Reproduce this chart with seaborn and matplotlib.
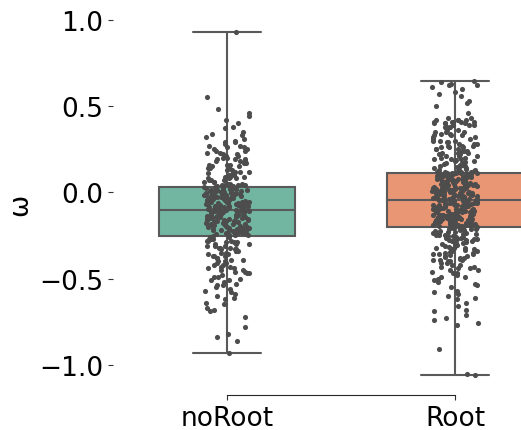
import numpy as np
import pandas as pd
import matplotlib
matplotlib.use("Agg")
import matplotlib.pyplot as plt
import seaborn as sns

# Group labels
groups = ["noRoot", "Root"]

# omega values, noRoot group
noroot_low_tail = [
    -0.93, -0.86, -0.84, -0.82, -0.78, -0.72,
    -0.69, -0.68, -0.67, -0.65, -0.64, -0.62, -0.61, -0.60, -0.59, -0.58, -0.57, -0.56,
    -0.55, -0.54, -0.54, -0.53, -0.52, -0.51, -0.51, -0.50, -0.49, -0.49, -0.48, -0.47,
    -0.47, -0.46, -0.46, -0.45,
    -0.45, -0.44, -0.44, -0.43, -0.43, -0.42, -0.42, -0.41, -0.41, -0.40, -0.40, -0.39,
    -0.39, -0.38, -0.38, -0.37, -0.37, -0.37, -0.36, -0.36, -0.35, -0.35,
    -0.34, -0.34, -0.34, -0.33, -0.33, -0.33, -0.32, -0.32, -0.32, -0.31, -0.31, -0.31,
    -0.30, -0.30, -0.30, -0.29, -0.29, -0.29, -0.28, -0.28, -0.28, -0.27, -0.27, -0.27,
    -0.26, -0.26,
]
noroot_mid_low = [
    -0.251, -0.249, -0.247, -0.246, -0.243, -0.241, -0.240, -0.237, -0.236, -0.233,
    -0.231, -0.229, -0.228, -0.224, -0.222, -0.221, -0.219, -0.216, -0.214, -0.213,
    -0.211, -0.208, -0.207, -0.205, -0.203, -0.200, -0.199, -0.197, -0.195, -0.192,
    -0.190, -0.189, -0.187, -0.184, -0.183, -0.181, -0.179, -0.177, -0.175, -0.173,
    -0.171, -0.169, -0.168, -0.165, -0.163, -0.162, -0.160, -0.157, -0.156, -0.154,
    -0.152, -0.150, -0.148, -0.146, -0.145, -0.142, -0.141, -0.139, -0.137, -0.135,
    -0.133, -0.131, -0.130, -0.128, -0.126, -0.124, -0.122, -0.121, -0.119, -0.117,
    -0.116, -0.114, -0.113, -0.111, -0.110, -0.108, -0.107, -0.106, -0.105, -0.104,
    -0.104, -0.103,
]
noroot_mid_high = [
    -0.102, -0.100, -0.099, -0.097, -0.096, -0.094, -0.092, -0.091, -0.089, -0.088,
    -0.086, -0.084, -0.083, -0.081, -0.080, -0.078, -0.077, -0.075, -0.073, -0.072,
    -0.070, -0.069, -0.067, -0.065, -0.064, -0.062, -0.061, -0.059, -0.058, -0.056,
    -0.054, -0.053, -0.051, -0.050, -0.048, -0.046, -0.045, -0.043, -0.042, -0.040,
    -0.038, -0.037, -0.035, -0.034, -0.032, -0.030, -0.029, -0.027, -0.026, -0.024,
    -0.022, -0.021, -0.019, -0.018, -0.016, -0.014, -0.013, -0.011, -0.010, -0.008,
    -0.006, -0.005, -0.003, -0.002, 0.000, 0.002, 0.003, 0.005, 0.006, 0.008,
    0.010, 0.011, 0.013, 0.014, 0.016, 0.018, 0.019, 0.021, 0.023, 0.026,
    0.029, 0.033,
]
noroot_high_tail = [
    0.93, 0.55, 0.48, 0.46, 0.44, 0.42, 0.40, 0.38, 0.37, 0.35, 0.34, 0.33, 0.32, 0.31,
    0.30, 0.29, 0.29, 0.28, 0.27, 0.27, 0.26, 0.26, 0.25, 0.25,
    0.24, 0.24, 0.23, 0.23, 0.22, 0.22, 0.21, 0.21, 0.20, 0.20,
    0.19, 0.19, 0.19, 0.18, 0.18, 0.18, 0.17, 0.17, 0.16, 0.16,
    0.16, 0.15, 0.15, 0.14, 0.14, 0.14, 0.13, 0.13, 0.12, 0.12,
    0.12, 0.11, 0.11, 0.10, 0.10,
    0.10, 0.09, 0.09, 0.09, 0.08, 0.08, 0.08, 0.07, 0.07, 0.07,
    0.06, 0.06, 0.06, 0.05, 0.05, 0.05, 0.05, 0.04, 0.04, 0.04,
    0.04, 0.035, 0.035,
]

# omega values, Root group
root_low_tail = [
    -1.06, -1.05, -0.91,
    -0.77, -0.76, -0.74, -0.73, -0.71, -0.69, -0.68, -0.66, -0.64, -0.62, -0.61,
    -0.60, -0.59, -0.58, -0.57, -0.55, -0.54, -0.53, -0.52, -0.51,
    -0.50, -0.49, -0.49, -0.48, -0.47, -0.47, -0.46, -0.45, -0.45, -0.44,
    -0.44, -0.43, -0.43, -0.42, -0.42, -0.41, -0.41,
    -0.40, -0.40, -0.395, -0.39, -0.39, -0.385, -0.38, -0.38, -0.375, -0.37,
    -0.37, -0.365, -0.36, -0.36, -0.355, -0.35, -0.35, -0.345, -0.34, -0.34,
    -0.335, -0.33, -0.33, -0.325, -0.32, -0.32, -0.315, -0.31, -0.31, -0.305,
    -0.30, -0.298, -0.295, -0.293, -0.29, -0.288, -0.285, -0.283, -0.28, -0.278,
    -0.275, -0.273, -0.27, -0.268, -0.265, -0.263, -0.26, -0.258, -0.255, -0.253,
    -0.25, -0.248, -0.245, -0.243, -0.24, -0.238, -0.235, -0.233, -0.23, -0.228,
    -0.225, -0.223, -0.22, -0.218, -0.215, -0.213, -0.21, -0.208, -0.205, -0.203,
]
root_mid_low = [
    -0.200, -0.199, -0.197, -0.196, -0.194, -0.193, -0.192, -0.190, -0.189, -0.187,
    -0.186, -0.185, -0.183, -0.182, -0.180, -0.179, -0.178, -0.176, -0.175, -0.173,
    -0.172, -0.171, -0.169, -0.168, -0.166, -0.165, -0.164, -0.162, -0.161, -0.159,
    -0.158, -0.157, -0.155, -0.154, -0.152, -0.151, -0.150, -0.148, -0.147, -0.145,
    -0.144, -0.143, -0.141, -0.140, -0.138, -0.137, -0.136, -0.134, -0.133, -0.131,
    -0.130, -0.129, -0.127, -0.126, -0.124, -0.123, -0.122, -0.120, -0.119, -0.117,
    -0.116, -0.115, -0.113, -0.112, -0.110, -0.109, -0.108, -0.106, -0.105, -0.103,
    -0.102, -0.101, -0.099, -0.098, -0.096, -0.095, -0.094, -0.092, -0.091, -0.089,
    -0.088, -0.087, -0.085, -0.084, -0.082, -0.081, -0.080, -0.078, -0.077, -0.075,
    -0.074, -0.073, -0.071, -0.070, -0.068, -0.067, -0.066, -0.064, -0.063, -0.061,
    -0.060, -0.059, -0.057, -0.056, -0.054, -0.053, -0.052, -0.050, -0.049, -0.047,
]
root_mid_high = [
    -0.045, -0.044, -0.042, -0.041, -0.039, -0.038, -0.036, -0.035, -0.033, -0.032,
    -0.030, -0.029, -0.027, -0.026, -0.024, -0.023, -0.021, -0.020, -0.018, -0.017,
    -0.015, -0.014, -0.012, -0.011, -0.009, -0.008, -0.006, -0.005, -0.003, -0.002,
    0.000, 0.001, 0.003, 0.004, 0.006, 0.007, 0.009, 0.010, 0.012, 0.013,
    0.015, 0.016, 0.018, 0.019, 0.021, 0.022, 0.024, 0.025, 0.027, 0.028,
    0.030, 0.031, 0.033, 0.034, 0.036, 0.037, 0.039, 0.040, 0.042, 0.043,
    0.045, 0.046, 0.048, 0.049, 0.051, 0.052, 0.054, 0.055, 0.057, 0.058,
    0.060, 0.061, 0.063, 0.064, 0.066, 0.067, 0.069, 0.070, 0.072, 0.073,
    0.075, 0.076, 0.078, 0.079, 0.081, 0.082, 0.084, 0.085, 0.087, 0.088,
    0.090, 0.091, 0.093, 0.094, 0.096, 0.097, 0.099, 0.100, 0.102, 0.103,
    0.105, 0.106, 0.108, 0.109, 0.110, 0.111, 0.112, 0.113, 0.114, 0.114,
]
root_high_tail = [
    0.645, 0.64, 0.63, 0.62, 0.62, 0.61, 0.60, 0.58, 0.57, 0.56,
    0.53, 0.52, 0.50, 0.46,
    0.43, 0.43, 0.42, 0.42, 0.42, 0.42, 0.41, 0.41, 0.41, 0.41, 0.41,
    0.40, 0.40, 0.40, 0.40, 0.39, 0.39, 0.39, 0.38, 0.38, 0.38, 0.37,
    0.36, 0.36, 0.35, 0.35, 0.35, 0.34, 0.34, 0.33, 0.33, 0.33, 0.32, 0.32, 0.31, 0.31,
    0.30, 0.30,
    0.295, 0.29, 0.29, 0.28, 0.28, 0.28, 0.27, 0.27, 0.27, 0.26,
    0.26, 0.26, 0.25, 0.25, 0.25, 0.24, 0.24, 0.24, 0.23, 0.23,
    0.23, 0.22, 0.22, 0.22, 0.21, 0.21, 0.21, 0.20,
    0.20, 0.195, 0.19, 0.19, 0.185, 0.18, 0.18, 0.175, 0.17, 0.17,
    0.165, 0.16, 0.16, 0.155, 0.15, 0.15, 0.145, 0.14, 0.14, 0.135,
    0.13, 0.13, 0.128, 0.125, 0.123, 0.12, 0.12, 0.118, 0.117, 0.116,
]

noroot_vals = noroot_low_tail + noroot_mid_low + noroot_mid_high + noroot_high_tail
root_vals = root_low_tail + root_mid_low + root_mid_high + root_high_tail

df = pd.DataFrame({
    "group": [groups[0]] * len(noroot_vals) + [groups[1]] * len(root_vals),
    "omega": noroot_vals + root_vals,
})

sns.set_style("white")
plt.rcParams["font.family"] = ["DejaVu Sans"]
plt.rcParams["xtick.bottom"] = True
plt.rcParams["ytick.left"] = True

fig = plt.figure(figsize=(5.21, 4.31), dpi=100)
ax = fig.add_axes([0.217, 0.087, 0.875, 0.877])

sns.boxplot(data=df, x="group", y="omega", order=groups, hue="group",
            palette="Set2", width=0.6, whis=(0, 100), showfliers=False,
            linewidth=1.5, legend=False, ax=ax)
np.random.seed(3)
sns.stripplot(data=df, x="group", y="omega", order=groups, color=".3",
              size=3.7, jitter=0.1, linewidth=0, ax=ax)

ax.set_ylim(-1.16, 1.03)
ax.set_xlim(-0.5, 1.5)
ax.set_yticks([-1.0, -0.5, 0.0, 0.5, 1.0])
ax.set_xlabel("")
ax.set_ylabel("ω", fontsize=19, color="black")
ax.tick_params(axis="both", labelsize=19, length=3.5, width=0.8,
               color="0.2", labelcolor="black")
sns.despine(ax=ax, left=True, offset=2, trim=True)

fig.savefig("out.png", dpi=100)
